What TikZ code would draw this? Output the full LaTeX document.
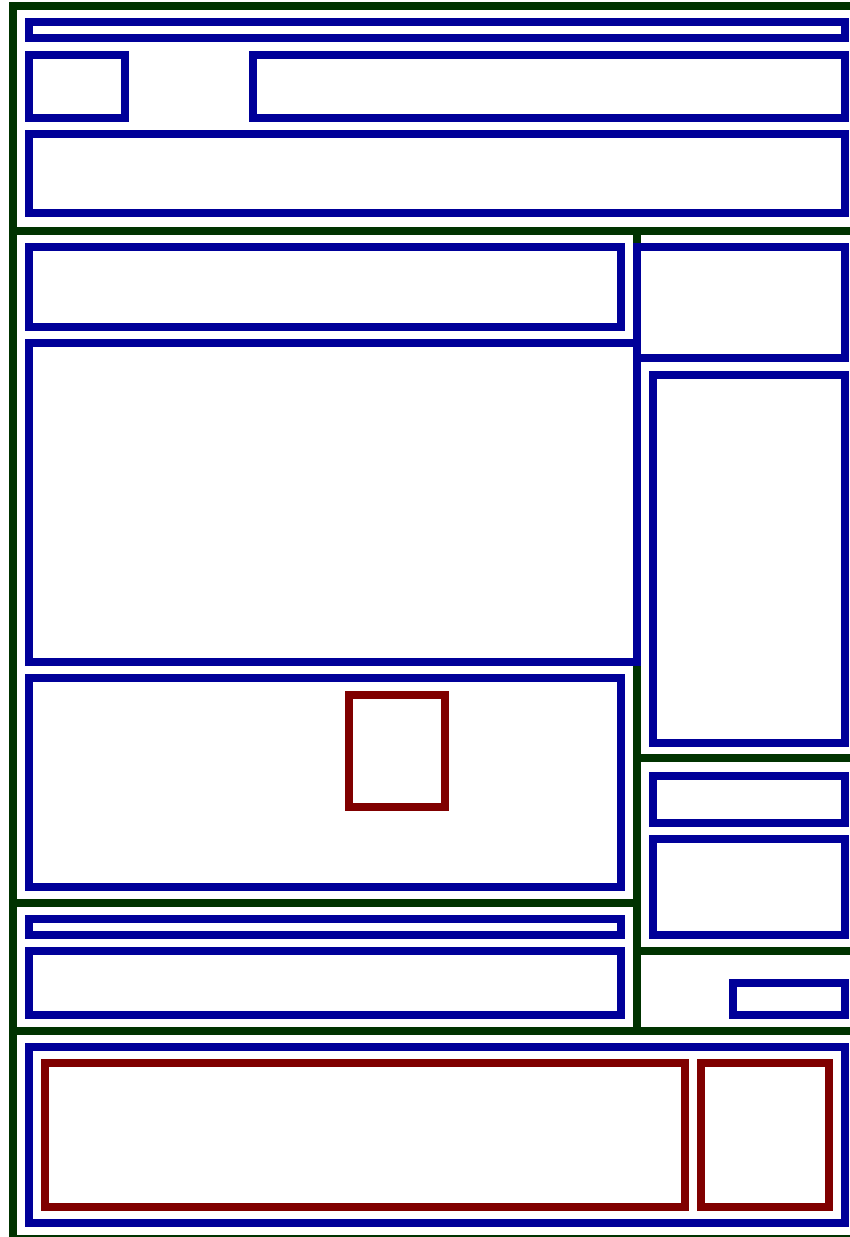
\documentclass[tikz,border=0pt]{standalone}
\definecolor{framegreen}{RGB}{0,51,0}
\definecolor{boxblue}{RGB}{0,0,153}
\definecolor{boxred}{RGB}{128,0,0}
\tikzset{
  frameline/.style={draw=framegreen,line width=8pt,line cap=rect},
  bluebox/.style={draw=boxblue,line width=8pt},
  redbox/.style={draw=boxred,line width=8pt}
}
\begin{document}
\begin{tikzpicture}[x=1pt,y=-1pt]
\useasboundingbox (0,0) rectangle (850,1237);
\clip (0,0) rectangle (850,1237);
% green frame
\draw[frameline] (13,6) rectangle (857,1239);
\draw[frameline] (13,230.5) -- (857,230.5);
\draw[frameline] (637,230.5) -- (637,1030.5);
\draw[frameline] (637,758) -- (857,758);
\draw[frameline] (13,903) -- (637,903);
\draw[frameline] (637,950.5) -- (857,950.5);
\draw[frameline] (13,1030.5) -- (857,1030.5);
% blue boxes
\draw[bluebox] (29,22) rectangle (845,38);
\draw[bluebox] (29,54.5) rectangle (125,118);
\draw[bluebox] (253,54.5) rectangle (845,118);
\draw[bluebox] (29,134) rectangle (845,213);
\draw[bluebox] (29,246.5) rectangle (621,326.5);
\draw[bluebox] (637,246.5) rectangle (845,358);
\draw[bluebox] (29,343) rectangle (637,662);
\draw[bluebox] (653,374.5) rectangle (845,742.5);
\draw[bluebox] (29,678) rectangle (621,886.5);
\draw[bluebox] (653,776) rectangle (845,823);
\draw[bluebox] (653,839) rectangle (845,934.5);
\draw[bluebox] (29,919) rectangle (621,934.5);
\draw[bluebox] (29,950.5) rectangle (621,1014.5);
\draw[bluebox] (733,982.5) rectangle (845,1014.5);
\draw[bluebox] (29,1046.5) rectangle (845,1223);
% red boxes
\draw[redbox] (349,694.5) rectangle (445,806.5);
\draw[redbox] (45,1062.5) rectangle (685,1206.5);
\draw[redbox] (701,1062.5) rectangle (829,1206.5);
\end{tikzpicture}
\end{document}
